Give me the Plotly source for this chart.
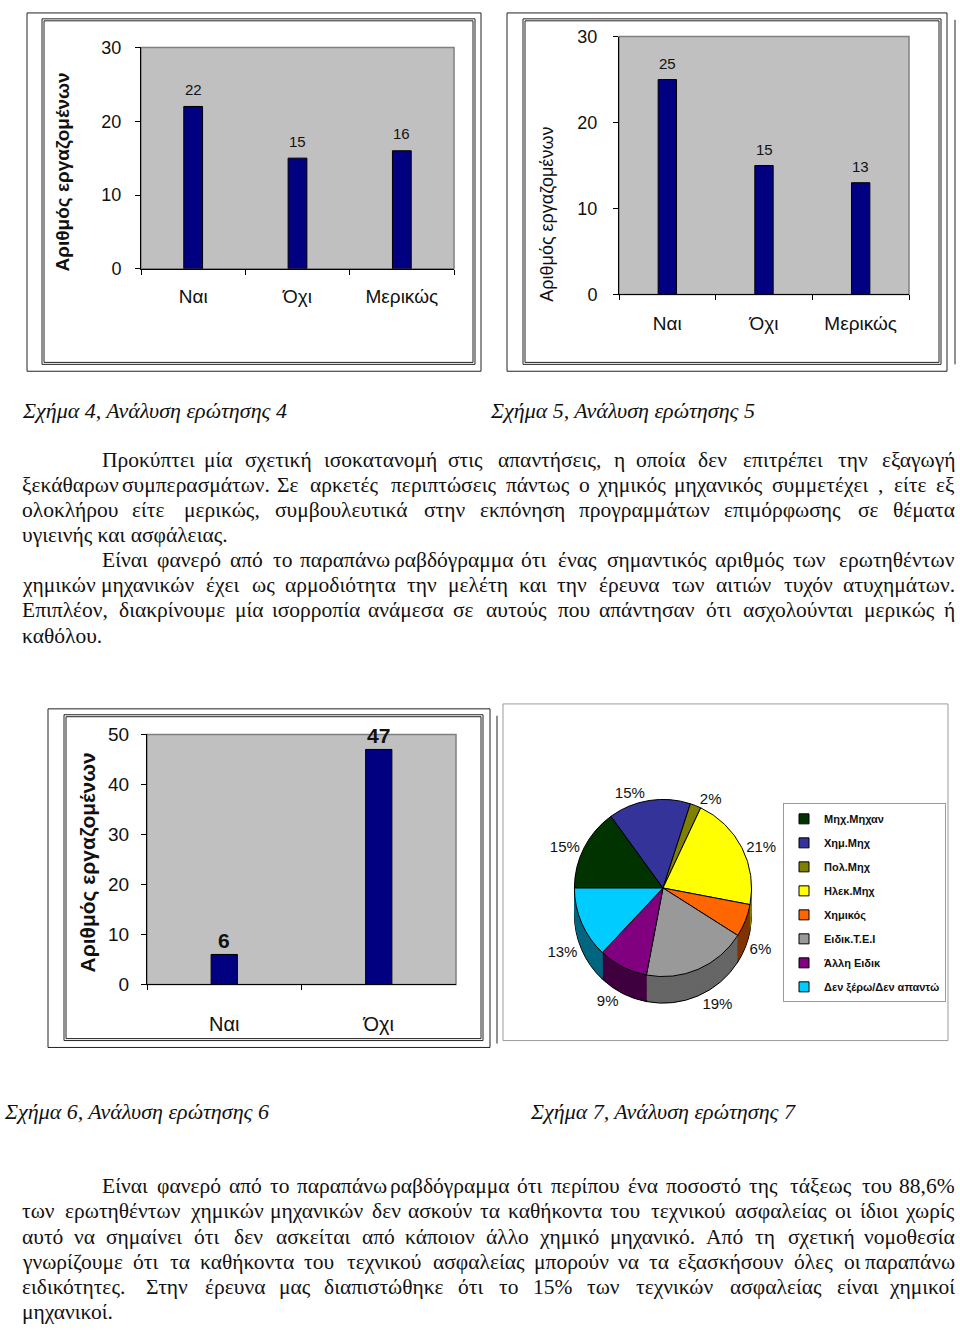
import math
import plotly.graph_objects as go

W, H = 960, 1338

# ---------------- data ----------------
fig4_categories = ["Ναι", "Όχι", "Μερικώς"]
fig4_values = [22, 15, 16]
fig5_categories = ["Ναι", "Όχι", "Μερικώς"]
fig5_values = [25, 15, 13]
fig6_categories = ["Ναι", "Όχι"]
fig6_values = [6, 47]
fig7_labels = ["Μηχ.Μηχαν", "Χημ.Μηχ", "Πολ.Μηχ", "Ηλεκ.Μηχ", "Χημικός",
               "Ειδικ.Τ.Ε.Ι", "Άλλη Ειδικ", "Δεν ξέρω/Δεν απαντώ"]
fig7_values = [15, 15, 2, 21, 6, 19, 9, 13]
y_title = "Αριθμός εργαζομένων"

captions = [
    ("Σχήμα 4, Ανάλυση ερώτησης 4", 20, 407),
    ("Σχήμα 5, Ανάλυση ερώτησης 5", 488, 407),
    ("Σχήμα 6, Ανάλυση ερώτησης 6", 2, 1119),
    ("Σχήμα 7, Ανάλυση ερώτησης 7", 528, 1119),
]

para1 = [
    "Προκύπτει μία σχετική ισοκατανομή στις απαντήσεις, η οποία δεν επιτρέπει την εξαγωγή",
    "ξεκάθαρων συμπερασμάτων. Σε αρκετές περιπτώσεις πάντως ο χημικός μηχανικός συμμετέχει , είτε εξ",
    "ολοκλήρου είτε μερικώς, συμβουλευτικά στην εκπόνηση προγραμμάτων επιμόρφωσης σε θέματα",
    "υγιεινής και ασφάλειας.",
    "Είναι φανερό από το παραπάνω ραβδόγραμμα ότι ένας σημαντικός αριθμός των ερωτηθέντων",
    "χημικών μηχανικών έχει ως αρμοδιότητα την μελέτη και την έρευνα των αιτιών τυχόν ατυχημάτων.",
    "Επιπλέον, διακρίνουμε μία ισορροπία ανάμεσα σε αυτούς που απάντησαν ότι ασχολούνται μερικώς ή",
    "καθόλου.",
]
para1_indent = [True, False, False, False, True, False, False, False]
para1_justify = [True, True, True, False, True, True, True, False]

para2 = [
    "Είναι φανερό από το παραπάνω ραβδόγραμμα ότι περίπου ένα ποσοστό της τάξεως του 88,6%",
    "των ερωτηθέντων χημικών μηχανικών δεν ασκούν τα καθήκοντα του τεχνικού ασφαλείας  οι ίδιοι χωρίς",
    "αυτό να σημαίνει ότι δεν ασκείται από κάποιον άλλο χημικό μηχανικό. Από τη σχετική νομοθεσία",
    "γνωρίζουμε ότι τα καθήκοντα του τεχνικού ασφαλείας μπορούν να τα εξασκήσουν όλες οι παραπάνω",
    "ειδικότητες. Στην έρευνα μας διαπιστώθηκε ότι το 15% των τεχνικών ασφαλείας είναι χημικοί",
    "μηχανικοί.",
]
para2_indent = [True, False, False, False, False, False]
para2_justify = [True, True, True, True, True, False]

# ---------------- helpers ----------------
def px(x):
    return x / W


def py(y):
    return 1 - y / H


SANS = "Liberation Sans, Arial, sans-serif"
NARROW = "Liberation Sans Narrow, Arial Narrow, Liberation Sans, sans-serif"
SERIF = "Liberation Serif, Times New Roman, serif"

fig = go.Figure()
ann = []

# ---------------- bar charts ----------------
NAVY = "#000080"


def add_bars(cats, vals, xa, ya, width, tsize, tfont, tweight, shift):
    fig.add_trace(go.Bar(
        x=cats, y=vals, xaxis=xa, yaxis=ya, width=width,
        marker=dict(color=NAVY, line=dict(color="black", width=1)),
        showlegend=False, hoverinfo="skip"))
    xr = xa if xa != "x1" else "x"
    for c, v in zip(cats, vals):
        ann.append(dict(text=str(v), x=c, y=v, xref=xa, yref=ya, showarrow=False,
                        xanchor="center", yanchor="middle", yshift=shift,
                        font=dict(size=tsize, color="#111", family=tfont,
                                  weight=tweight)))


add_bars(fig4_categories, fig4_values, "x", "y", 0.18, 15, SANS, "normal", 17)
add_bars(fig5_categories, fig5_values, "x2", "y2", 0.19, 15, SANS, "normal", 16)
add_bars(fig6_categories, fig6_values, "x3", "y3", 0.17, 21, NARROW, "bold", 14)


def xaxis_cfg(x0, x1, size, font, standoff):
    return dict(domain=[px(x0), px(x1)], showline=True, linecolor="black", linewidth=1,
                ticks="outside", ticklen=5, tickcolor="black", tickson="boundaries",
                showgrid=False, zeroline=False, fixedrange=True,
                tickfont=dict(size=size, family=font, color="#111"),
                ticklabelstandoff=standoff)


def yaxis_cfg(y0, y1, rmax, size, font, standoff, anchor):
    return dict(domain=[py(y1), py(y0)], range=[0, rmax], dtick=10, showline=True,
                linecolor="black", linewidth=1, ticks="outside", ticklen=5,
                tickcolor="black", showgrid=False, zeroline=False, anchor=anchor,
                fixedrange=True,
                tickfont=dict(size=size, family=font, color="#111"),
                ticklabelstandoff=standoff)


fig.update_layout(
    xaxis=dict(xaxis_cfg(141, 454, 19, SANS, 10), anchor="y"),
    yaxis=yaxis_cfg(38, 263, 30, 18, SANS, 10, "x"),
    xaxis2=dict(xaxis_cfg(619, 909, 19, SANS, 12), anchor="y2"),
    yaxis2=yaxis_cfg(27, 289, 30, 18, SANS, 12, "x2"),
    xaxis3=dict(xaxis_cfg(147, 456, 20, NARROW, 22), anchor="y3"),
    yaxis3=yaxis_cfg(736, 990, 50, 19, NARROW, 8, "x3"),
    xaxis4=dict(visible=False, overlaying="x", anchor="y4"),
    yaxis4=dict(visible=False, overlaying="y", anchor="x4"),
)

shapes = []
# plot-area grey border (top/right visible)
for xa, ya in [("x", "y"), ("x2", "y2"), ("x3", "y3")]:
    shapes.append(dict(type="rect", xref=f"{xa} domain", yref=f"{ya} domain",
                       x0=0, x1=1, y0=0, y1=1, line=dict(color="#808080", width=1.5),
                       layer="below"))


def rect(x0, y0, x1, y1, color="#222", width=1):
    shapes.append(dict(type="rect", xref="paper", yref="paper",
                       x0=px(x0), x1=px(x1), y0=py(y1), y1=py(y0),
                       line=dict(color=color, width=width)))


def vline(x, y0, y1, color="#222", width=1):
    shapes.append(dict(type="line", xref="paper", yref="paper",
                       x0=px(x), x1=px(x), y0=py(y0), y1=py(y1),
                       line=dict(color=color, width=width)))


# frames
rect(27, 3, 481, 367)
rect(42, 9, 475, 360)
rect(44, 11, 473, 358)
rect(507, 3, 947, 367)
rect(523, 9, 941, 360)
rect(525, 11, 939, 358)
vline(955, 10, 360)
rect(48, 710, 490, 1054)
rect(64, 716, 483, 1047)
rect(66, 718, 481, 1045)
vline(497, 717, 1050)
rect(503, 705, 948, 1047, color="#9a9a9a", width=1)

# ---------------- pie (pseudo 3D) ----------------
top_colors = ["#003300", "#333399", "#808000", "#ffff00", "#ff6600",
              "#999999", "#800080", "#00ccff"]
side_colors = ["#001a00", "#1a1a4d", "#404000", "#808000", "#803300",
               "#666666", "#400040", "#00667f"]

cx, cy, r = 663, 892, 90
depth = 27
step = 1.5

total = sum(fig7_values)
mid_angles = []
acc = 0
for v in fig7_values:
    mid_angles.append((270 + 360 * (acc + v / 2) / total) % 360)
    acc += v
upper = [math.cos(math.radians(a)) > -0.2 for a in mid_angles]
pct = [f"{v}%" for v in fig7_values]
upper_text = [t if u else "" for t, u in zip(pct, upper)]
lower_text = ["" if u else t for t, u in zip(pct, upper)]


def pie_layer(d, colors, texts, line_w):
    if texts is None:
        kw = dict(textinfo="none")
    else:
        kw = dict(text=texts, textinfo="text", textposition="outside",
                  textfont=dict(size=15, family=NARROW, color="#111"))
    fig.add_trace(go.Pie(
        labels=fig7_labels, values=fig7_values, sort=False, direction="clockwise",
        rotation=270, domain=dict(x=[px(cx - r), px(cx + r)],
                                  y=[py(cy + r + d), py(cy - r + d)]),
        marker=dict(colors=colors, line=dict(color="black", width=line_w)),
        showlegend=False, hoverinfo="skip", **kw))


n_layers = int(depth / step)
for k in range(n_layers, 0, -1):
    d = k * step
    if k == n_layers:
        pie_layer(d, side_colors, lower_text, 1)
    else:
        pie_layer(d, side_colors, None, 0)
pie_layer(0, top_colors, upper_text, 1)

# legend entries (one per pie category)
for lab, col in zip(fig7_labels, top_colors):
    fig.add_trace(go.Scatter(
        x=[None], y=[None], xaxis="x4", yaxis="y4", mode="markers", name=lab,
        legendgroup=lab, showlegend=True,
        marker=dict(symbol="square", size=10, color=col,
                    line=dict(color="black", width=1))))

# ---------------- annotations ----------------


def vtitle(x, y, size, family, weight):
    ann.append(dict(text=y_title, x=px(x), y=py(y), xref="paper", yref="paper",
                    textangle=-90, showarrow=False, xanchor="center", yanchor="middle",
                    font=dict(size=size, family=family, color="#111", weight=weight)))


vtitle(63, 165, 19, SANS, "bold")
vtitle(547, 208, 18, SANS, "normal")
vtitle(88, 866, 21, NARROW, "bold")

for text, x, y in captions:
    ann.append(dict(text=text, x=px(x), y=py(y), xref="paper", yref="paper",
                    xanchor="left", yanchor="middle", showarrow=False,
                    font=dict(size=22, family=SERIF, color="#111", style="italic")))

FS = 21.5


def est_width(word, size):
    w = 0
    for ch in word:
        if ch.isdigit():
            w += 0.5
        elif ch in ",.;:":
            w += 0.25
        elif ch == "%":
            w += 0.83
        elif ch.isupper():
            w += 0.68
        elif ch in "ιί":
            w += 0.28
        elif ch in "φψωώ":
            w += 0.64
        else:
            w += 0.48
    return w * size


def add_lines(lines, indents, justs, y0, dy, left=20, right=957, indent=100):
    for i, line in enumerate(lines):
        y = y0 + i * dy
        x0 = indent if indents[i] else left
        if not justs[i]:
            ann.append(dict(text=line, x=px(x0), y=py(y), xref="paper", yref="paper",
                            xanchor="left", yanchor="middle", showarrow=False,
                            font=dict(size=FS, family=SERIF, color="#111")))
            continue
        words = line.split()
        widths = [est_width(w, FS) for w in words]
        gap = (right - x0 - sum(widths)) / (len(words) - 1)
        pos = x0
        for j, w in enumerate(words):
            if j == 0:
                xa, xx = "left", x0
            elif j == len(words) - 1:
                xa, xx = "right", right
            else:
                xa, xx = "center", pos + widths[j] / 2
            ann.append(dict(text=w, x=px(xx), y=py(y), xref="paper", yref="paper",
                            xanchor=xa, yanchor="middle", showarrow=False,
                            font=dict(size=FS, family=SERIF, color="#111")))
            pos += widths[j] + gap


add_lines(para1, para1_indent, para1_justify, 457, 25.5)
add_lines(para2, para2_indent, para2_justify, 1195, 25.6)

fig.update_layout(
    width=W, height=H, margin=dict(l=0, r=0, t=0, b=0),
    paper_bgcolor="white", plot_bgcolor="#c0c0c0",
    shapes=shapes, annotations=ann,
    legend=dict(x=px(783), y=py(806), xanchor="left", yanchor="top",
                bgcolor="white", bordercolor="#9a9a9a", borderwidth=1,
                itemwidth=30, traceorder="grouped", tracegroupgap=5,
                font=dict(size=11, family=NARROW, color="#111", weight="bold"),
                itemclick=False, itemdoubleclick=False),
)

post = (
    "document.documentElement.style.margin='0';"
    "document.documentElement.style.overflow='hidden';"
    "document.body.style.margin='0';document.body.style.overflow='hidden';"
    "var gd=document.getElementById('{plot_id}');"
    "gd.style.position='absolute';gd.style.left='0px';gd.style.top='0px';"
)

fig.write_html("out.html", post_script=post,
               config={"displayModeBar": False, "staticPlot": True})
